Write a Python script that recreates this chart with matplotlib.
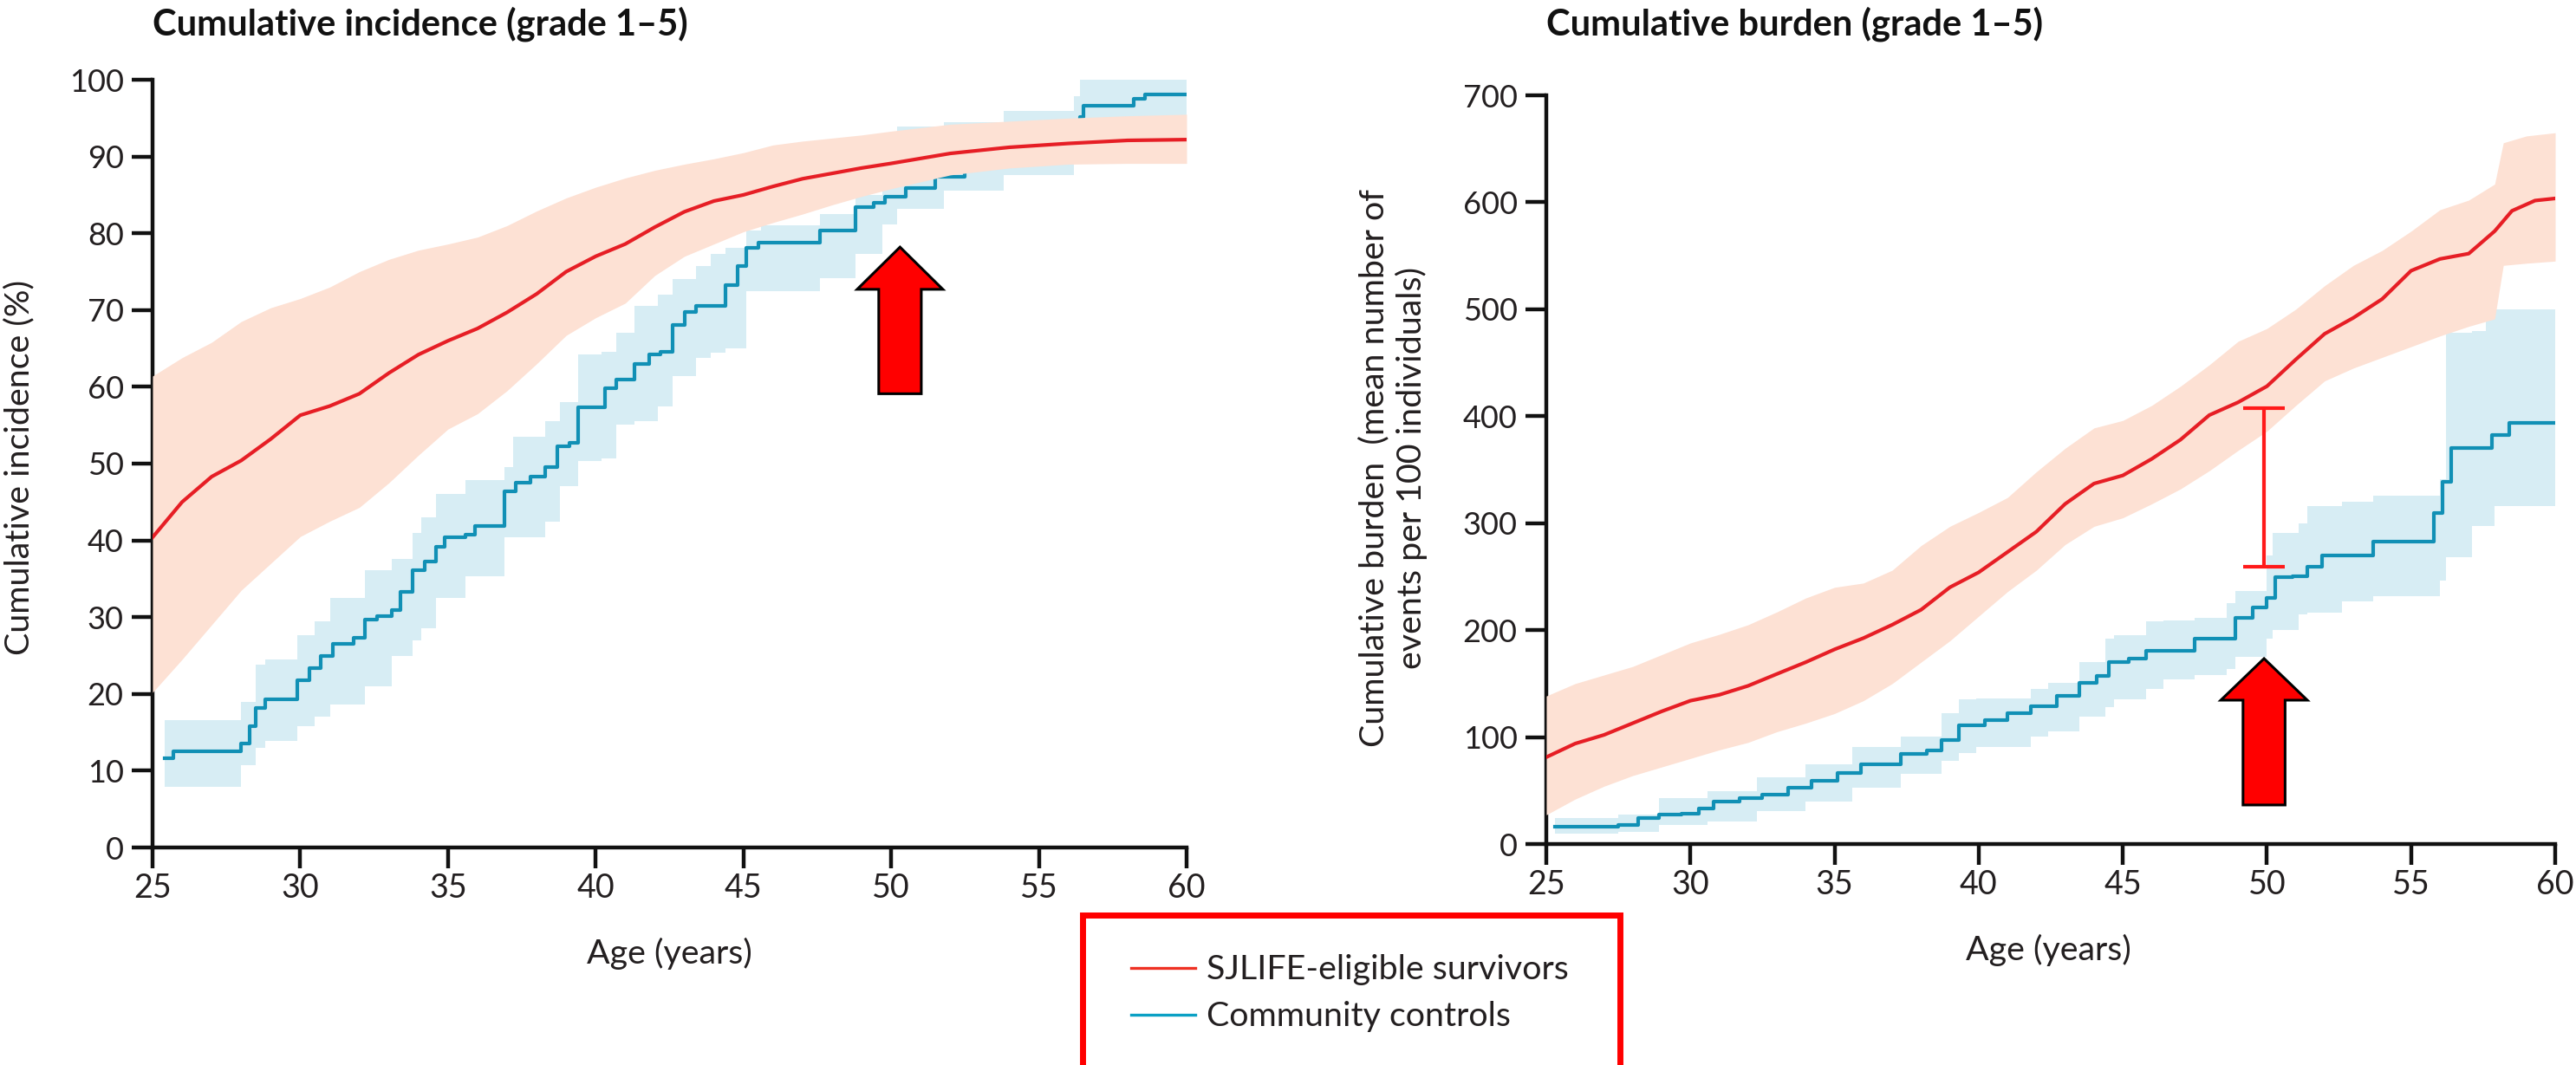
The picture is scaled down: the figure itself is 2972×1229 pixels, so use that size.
import matplotlib
matplotlib.use("Agg")
import matplotlib.pyplot as plt
from matplotlib import font_manager
from matplotlib.patches import FancyArrow, Rectangle
from matplotlib.lines import Line2D

# ---------------------------------------------------------------- data
XTICKS = [25, 30, 35, 40, 45, 50, 55, 60]
INC_TICKS = list(range(0, 101, 10))
BUR_TICKS = list(range(0, 701, 100))

# Cumulative incidence, SJLIFE-eligible survivors (%)
inc_surv_age = [25, 26, 27, 28, 29, 30, 31, 32, 33, 34, 35, 36, 37, 38, 39, 40,
                41, 42, 43, 44, 45, 46, 47, 48, 49, 50, 52, 54, 56, 58, 60]
inc_surv = [40.4, 45.0, 48.3, 50.4, 53.2, 56.3, 57.5, 59.1, 61.8, 64.2, 66.0,
            67.6, 69.7, 72.1, 75.0, 77.0, 78.6, 80.8, 82.8, 84.2, 85.0, 86.1,
            87.1, 87.8, 88.5, 89.1, 90.4, 91.2, 91.7, 92.1, 92.2]
inc_surv_hi = [61.4, 63.8, 65.8, 68.5, 70.3, 71.5, 73.0, 75.0, 76.6, 77.8, 78.6,
               79.5, 81.0, 82.9, 84.6, 86.0, 87.2, 88.2, 89.0, 89.7, 90.5, 91.5,
               92.0, 92.4, 92.8, 93.3, 94.2, 94.6, 95.0, 95.3, 95.5]
inc_surv_lo = [20.2, 24.5, 29.0, 33.5, 37.0, 40.5, 42.5, 44.3, 47.5, 51.1, 54.5,
               56.5, 59.5, 63.0, 66.7, 69.0, 70.9, 74.5, 77.0, 78.6, 80.2, 81.4,
               82.5, 83.7, 84.8, 85.8, 87.6, 88.5, 89.0, 89.1, 89.1]

# Cumulative incidence, community controls (%), step estimate
inc_ctrl_age = [25.4, 25.7, 28.0, 28.3, 28.5, 28.8, 29.9, 30.3, 30.7, 31.1, 31.8,
                32.2, 32.6, 33.1, 33.4, 33.8, 34.2, 34.6, 34.9, 35.6, 35.9, 36.9,
                37.3, 37.8, 38.3, 38.7, 39.1, 39.4, 40.3, 40.7, 41.3, 41.8, 42.2,
                42.6, 43.0, 43.4, 44.4, 44.8, 45.1, 45.5, 47.6, 48.8, 49.4, 49.8,
                50.5, 51.5, 52.5, 54.0, 55.5, 56.4, 56.5, 58.2, 58.6, 60.0]
inc_ctrl = [11.6, 12.5, 13.5, 15.8, 18.2, 19.3, 21.8, 23.4, 25.0, 26.5, 27.3,
            29.7, 30.1, 30.9, 33.3, 36.1, 37.2, 39.2, 40.4, 40.8, 41.9, 46.4,
            47.5, 48.3, 49.5, 52.3, 52.7, 57.3, 59.8, 61.0, 63.0, 64.2, 64.6,
            68.1, 69.7, 70.5, 73.3, 75.7, 78.1, 78.8, 80.4, 83.4, 84.0, 84.8,
            85.9, 87.4, 89.0, 90.8, 92.5, 95.2, 96.6, 97.5, 98.1, 98.1]
inc_ctrl_band_age = [25.4, 28.0, 28.5, 28.8, 29.9, 30.5, 31.0, 32.2, 33.1, 33.8,
                     34.1, 34.6, 35.6, 36.9, 37.2, 38.3, 38.8, 39.4, 40.2, 40.7,
                     41.3, 42.1, 42.6, 43.4, 43.9, 44.4, 45.1, 45.6, 47.6, 48.8,
                     49.7, 50.2, 51.8, 53.8, 56.2, 56.4, 60.0]
inc_ctrl_hi = [16.6, 19.0, 23.8, 24.5, 27.7, 29.5, 32.5, 36.1, 37.6, 41.0, 43.0,
               46.0, 47.9, 49.5, 53.5, 55.5, 58.0, 64.2, 64.6, 67.0, 70.5, 72.0,
               74.0, 75.7, 77.3, 78.1, 80.4, 81.0, 82.5, 85.0, 88.0, 93.9, 94.5,
               95.9, 97.9, 100.0, 100.0]
inc_ctrl_lo = [7.9, 10.7, 13.0, 13.9, 15.8, 17.0, 18.6, 21.0, 25.0, 27.0, 28.5,
               32.5, 35.3, 40.4, 40.4, 42.4, 47.1, 50.3, 50.7, 55.1, 55.5, 57.4,
               61.4, 63.8, 64.5, 65.0, 72.5, 72.5, 74.1, 77.3, 81.2, 83.2, 85.6,
               87.6, 89.9, 92.0, 92.0]

# Cumulative burden, SJLIFE-eligible survivors (events per 100 individuals)
bur_surv_age = [25, 26, 27, 28, 29, 30, 31, 32, 33, 34, 35, 36, 37, 38, 39, 40,
                41, 42, 43, 44, 45, 46, 47, 48, 49, 50, 51, 52, 53, 54, 55, 56,
                57, 57.9, 58.5, 59.3, 60]
bur_surv = [81.2, 93.9, 102, 113, 124, 134, 139.5, 147.9, 159, 170, 182, 192.5,
            205, 219, 240, 254, 273, 292, 318, 337, 344.6, 360, 378, 401, 413,
            428, 453, 477, 492, 509.6, 536, 547, 552, 573, 592, 601.6, 603.6]
bur_band_age = [25, 26, 27, 28, 29, 30, 31, 32, 33, 34, 35, 36, 37, 38, 39, 40,
                41, 42, 43, 44, 45, 46, 47, 48, 49, 50, 51, 52, 53, 54, 55, 56,
                57, 57.9, 58.2, 59, 60]
bur_surv_hi = [138.4, 150, 158, 166, 177, 188, 196, 205, 217, 230, 240, 244, 256,
               279, 297, 310, 324, 348, 370, 389, 396, 410, 428, 448, 470, 482,
               500, 522, 541, 555, 573, 593, 602, 617, 655.6, 662, 665]
bur_surv_lo = [27.3, 42, 54, 64, 72, 80, 88, 95, 105, 113, 122, 134, 150, 170,
               190, 213, 236, 256, 280, 297, 305, 318, 332, 349, 368, 386, 410,
               433, 445, 455, 465, 475, 484, 491, 541, 543, 545]

# Cumulative burden, community controls, step estimate
bur_ctrl_age = [25.3, 27.5, 28.2, 28.9, 29.7, 30.3, 30.8, 31.7, 32.5, 33.4, 34.2,
                35.1, 35.9, 37.3, 38.2, 38.7, 39.3, 40.2, 41.0, 41.8, 42.7, 43.5,
                44.1, 44.5, 45.2, 45.8, 47.5, 48.9, 49.5, 50.0, 50.3, 50.9, 51.4,
                51.9, 53.7, 55.8, 56.1, 56.4, 57.8, 58.4, 60.0]
bur_ctrl = [15.9, 17.8, 24.1, 27.3, 28.6, 33.6, 40.0, 43.2, 46.3, 52.7, 59.0,
            66.6, 74.9, 84.4, 87.6, 97.1, 111.1, 116.1, 122.5, 128.8, 138.4,
            151.0, 157.4, 170.1, 173.3, 180.9, 192.3, 211.3, 220.9, 230.4, 249.4,
            250.7, 258.9, 269.7, 282.4, 309.7, 338.3, 370.0, 382.7, 394.1, 394.1]
bur_ctrl_band_age = [25.3, 27.5, 28.9, 30.6, 32.3, 34.0, 35.6, 37.3, 38.7, 39.3,
                     39.9, 41.8, 42.4, 43.5, 44.4, 44.7, 45.8, 46.4, 47.5, 48.6,
                     48.9, 50.0, 50.2, 51.1, 51.4, 52.6, 53.7, 56.0, 56.2, 57.1,
                     57.6, 57.9, 60.0]
bur_ctrl_hi = [24.1, 27.3, 43.2, 49.5, 62.2, 74.9, 90.8, 100.3, 122.5, 135.2,
               136.0, 145.0, 151.0, 170.1, 192.3, 195.0, 208.2, 209.0, 211.3,
               225.0, 236.7, 270.0, 290.7, 300.0, 316.1, 320.0, 325.6, 341.4,
               477.9, 480.0, 500.1, 500.1, 500.1]
bur_ctrl_lo = [9.5, 11.4, 17.8, 20.9, 30.5, 40.0, 52.7, 65.4, 78.1, 85.0, 90.8,
               100.3, 105.0, 119.3, 128.0, 135.2, 145.0, 154.2, 158.0, 163.7,
               175.0, 192.3, 200.0, 214.5, 216.0, 227.2, 232.0, 246.2, 268.5,
               297.0, 297.0, 316.1, 316.1]

# Gap between groups at age 50 (burden panel)
gap_age = 49.9
gap_low, gap_high = 258.9, 407.5

# Highlight arrows: (age, base value, tip value)
inc_arrow = (50.3, 59.1, 78.2)
bur_arrow = (49.9, 36.5, 173.4)

SERIES = ["SJLIFE-eligible survivors", "Community controls"]

# ---------------------------------------------------------------- style
RED = "#e61e25"
RED_BAND = "#fde1d4"
TEAL = "#1190b5"
TEAL_BAND = "#d7edf4"
LEG_RED = "#ee3124"
LEG_TEAL = "#0aa0c4"

avail = {f.name for f in font_manager.fontManager.ttflist}


def pick(*names):
    for n in names:
        if n in avail:
            return n
    return "DejaVu Sans"


NARROW = pick("Liberation Sans Narrow", "Lato")
WIDE = pick("Lato", "Open Sans")
k = 1.0 if NARROW == "Liberation Sans Narrow" else 0.86
TXT = 33 * k
XTK = 31.5 * k

W, H, DPI = 2972, 1229, 100
fig = plt.figure(figsize=(W / DPI, H / DPI), dpi=DPI)


def fx(px):
    return px / W


def fy(py):
    return 1 - py / H


def axes_box(x0, x1, ytop, ybot):
    return [fx(x0), fy(ybot), fx(x1) - fx(x0), fy(ytop) - fy(ybot)]


ax1 = fig.add_axes(axes_box(176, 1369, 92, 978))
ax2 = fig.add_axes(axes_box(1784, 2948, 110, 974))


def style(ax, yticks):
    for s in ("top", "right"):
        ax.spines[s].set_visible(False)
    for s in ("left", "bottom"):
        ax.spines[s].set_linewidth(3.2)
        ax.spines[s].set_color("#111111")
    ax.set_xlim(25, 60)
    ax.set_ylim(yticks[0], yticks[-1])
    ax.set_xticks(XTICKS)
    ax.set_yticks(yticks)
    ax.tick_params(axis="both", direction="out", length=17, width=3.2,
                   color="#111111")
    ax.tick_params(axis="y", pad=7, labelsize=26)
    ax.tick_params(axis="x", pad=4, labelsize=XTK)
    for t in ax.get_yticklabels():
        t.set_fontfamily(WIDE)
        t.set_color("#231f20")
    for t in ax.get_xticklabels():
        t.set_fontfamily(NARROW)
        t.set_color("#231f20")


style(ax1, INC_TICKS)
style(ax2, BUR_TICKS)

LW = 3.0

# incidence panel
ax1.fill_between(inc_ctrl_band_age, inc_ctrl_lo, inc_ctrl_hi, step="post",
                 color=TEAL_BAND, lw=0, zorder=1)
ax1.step(inc_ctrl_age, inc_ctrl, where="post", color=TEAL, lw=LW, zorder=2)
ax1.fill_between(inc_surv_age, inc_surv_lo, inc_surv_hi, color=RED_BAND, lw=0,
                 zorder=3)
ax1.plot(inc_surv_age, inc_surv, color=RED, lw=LW, zorder=4)

# burden panel
ax2.fill_between(bur_ctrl_band_age, bur_ctrl_lo, bur_ctrl_hi, step="post",
                 color=TEAL_BAND, lw=0, zorder=1)
ax2.step(bur_ctrl_age, bur_ctrl, where="post", color=TEAL, lw=LW, zorder=2)
ax2.fill_between(bur_band_age, bur_surv_lo, bur_surv_hi, color=RED_BAND, lw=0,
                 zorder=3)
ax2.plot(bur_surv_age, bur_surv, color=RED, lw=LW, zorder=4)

# gap marker
mid = (gap_low + gap_high) / 2
ax2.errorbar([gap_age], [mid], yerr=[[mid - gap_low]], fmt="none",
             ecolor="#ff1a1a", elinewidth=3, capsize=17, capthick=3, zorder=6)


def big_arrow(ax, spec, shaft_w, head_w, head_len):
    x, base, tip = spec
    ax.add_patch(FancyArrow(x, base, 0, tip - base, width=shaft_w,
                            head_width=head_w, head_length=head_len,
                            length_includes_head=True, facecolor="#ff0000",
                            edgecolor="black", lw=2.2, zorder=7))


big_arrow(ax1, inc_arrow, 1.44, 2.9, 5.5)
big_arrow(ax2, bur_arrow, 1.46, 3.0, 38.9)

# titles and axis labels
fig.text(fx(176), fy(40), "Cumulative incidence (grade 1\u20135)", family=WIDE,
         weight="bold", fontsize=30, ha="left", va="baseline", color="#111111")
fig.text(fx(1784), fy(40), "Cumulative burden (grade 1\u20135)", family=WIDE,
         weight="bold", fontsize=30, ha="left", va="baseline", color="#111111")

fig.text(fx(22), fy(540), "Cumulative incidence (%)", family=NARROW, fontsize=TXT,
         rotation=90, ha="center", va="center", color="#231f20")
fig.text(fx(1607), fy(540),
         "Cumulative burden  (mean number of\nevents per 100 individuals)",
         family=NARROW, fontsize=TXT, rotation=90, ha="center",
         va="center", multialignment="center", linespacing=1.2,
         color="#231f20")
fig.text(fx(772), fy(1100), "Age (years)", family=NARROW, fontsize=TXT,
         ha="center", va="center", color="#231f20")
fig.text(fx(2363), fy(1096), "Age (years)", family=NARROW, fontsize=TXT,
         ha="center", va="center", color="#231f20")

# legend block
fig.add_artist(Rectangle((fx(1248.5), fy(1245)), fx(1868.5) - fx(1248.5),
                         fy(1055.5) - fy(1245), transform=fig.transFigure,
                         fill=False, edgecolor="#ff0000", lw=5, clip_on=False))
for label, col, yb, yl in ((SERIES[0], LEG_RED, 1130, 1117),
                           (SERIES[1], LEG_TEAL, 1184, 1171)):
    fig.add_artist(Line2D([fx(1305), fx(1379)], [fy(yl), fy(yl)],
                          transform=fig.transFigure, color=col, lw=2.4))
    fig.text(fx(1392), fy(yb), label, family=NARROW, fontsize=TXT,
             ha="left", va="baseline", color="#231f20")

fig.savefig("out.png", dpi=DPI)
